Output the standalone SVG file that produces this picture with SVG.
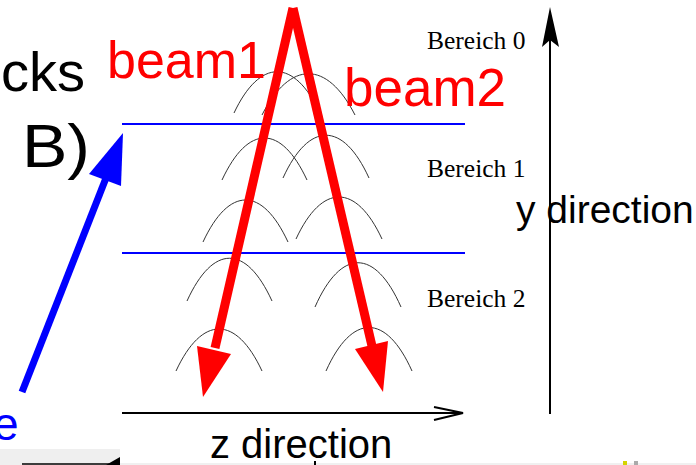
<svg xmlns="http://www.w3.org/2000/svg" width="696" height="465" viewBox="0 0 696 465">
  <style>
    .arc{fill:none;stroke:#333;stroke-width:1}
    .region{stroke:#0000ff;stroke-width:2}
    .beam{stroke:#ff0000;stroke-width:9;stroke-linecap:butt}
    .axis{stroke:#000;stroke-width:2;fill:none}
    .sans{font-family:"Liberation Sans",Arial,sans-serif}
    .serif{font-family:"Liberation Serif","Times New Roman",serif;font-size:25.5px;fill:#000}
  </style>
  <rect width="696" height="465" fill="#fff"/>

  <!-- bottom screen fragments -->
  <g id="bottom-strip">
    <rect x="0" y="449" width="120" height="16" fill="#efefef"/>
    <rect x="120" y="463" width="576" height="2" fill="#f0f0f0"/>
    <line x1="22" y1="464" x2="110" y2="464" stroke="#000" stroke-width="1.5"/>
    <polygon points="106,465 120,457 120,465" fill="#000"/>
    <rect x="623" y="461" width="4" height="4" fill="#d4d400"/>
    <rect x="634" y="461" width="4" height="4" fill="#aaa"/>
    <rect x="314" y="461" width="2" height="4" fill="#000"/>
  </g>

  <!-- arcs -->
  <g id="arcs">
    <path class="arc" d="M234,113 C260,58 294,58 320,113"/>
    <path class="arc" d="M262,115 C290,60 327,60 355,115"/>
    <path class="arc" d="M222,180 C248,124 281,124 307,180"/>
    <path class="arc" d="M283,178 C309,121 343,121 369,178"/>
    <path class="arc" d="M203,242 C229,186 262,186 288,242"/>
    <path class="arc" d="M296,239 C322,183 356,183 382,239"/>
    <path class="arc" d="M187,301 C213,244 246,244 272,301"/>
    <path class="arc" d="M315,307 C341,248 375,248 401,307"/>
    <path class="arc" d="M176,371 C202,315 236,315 262,371"/>
    <path class="arc" d="M326,371 C352,313 386,313 412,371"/>
  </g>

  <!-- region borders -->
  <g id="region-borders">
    <line class="region" x1="122" y1="124" x2="465" y2="124"/>
    <line class="region" x1="122" y1="253" x2="465" y2="253"/>
  </g>

  <!-- axes -->
  <g id="z-axis">
    <line class="axis" x1="122" y1="413" x2="462" y2="413"/>
    <polyline class="axis" stroke-width="2.5" points="434,407 463,413 434,420"/>
  </g>
  <g id="y-axis">
    <line class="axis" x1="550" y1="414" x2="550" y2="30"/>
    <polygon points="550,7 542,47 550,40 559,47" fill="#000"/>
  </g>

  <!-- connectors -->
  <g id="connectors">
    <g id="beam1-arrow">
      <line class="beam" x1="293" y1="8" x2="215" y2="348"/>
      <polygon points="203,397 197,346 231,354" fill="#ff0000"/>
    </g>
    <g id="beam2-arrow">
      <line class="beam" x1="293" y1="8" x2="372" y2="346"/>
      <polygon points="383,392 355,349 388,341" fill="#ff0000"/>
    </g>
    <g id="blue-arrow">
      <line x1="22" y1="392" x2="106" y2="178" stroke="#0000ff" stroke-width="7"/>
      <polygon points="123,133 89,174 121,186" fill="#0000ff"/>
    </g>
  </g>

  <!-- labels -->
  <g id="label-cks"><text class="sans" x="85" y="91" font-size="56" text-anchor="end" fill="#000">cks</text></g>
  <g id="label-b"><text class="sans" x="22" y="167" font-size="61" textLength="68" lengthAdjust="spacingAndGlyphs" fill="#000">B)</text></g>
  <g id="label-e"><text class="sans" x="-7" y="440" font-size="46" fill="#0000ff">e</text></g>
  <g id="label-beam1"><text class="sans" x="107" y="78" font-size="52" fill="#ff0000">beam1</text></g>
  <g id="label-beam2"><text class="sans" x="344" y="106" font-size="53" fill="#ff0000">beam2</text></g>
  <g id="label-bereich0"><text class="serif" x="427" y="49">Bereich 0</text></g>
  <g id="label-bereich1"><text class="serif" x="427" y="177">Bereich 1</text></g>
  <g id="label-bereich2"><text class="serif" x="427" y="307">Bereich 2</text></g>
  <g id="label-y"><text class="sans" x="516" y="223" font-size="39" fill="#000">y direction</text></g>
  <g id="label-z"><text class="sans" x="210" y="458" font-size="40" fill="#000">z direction</text></g>
</svg>
